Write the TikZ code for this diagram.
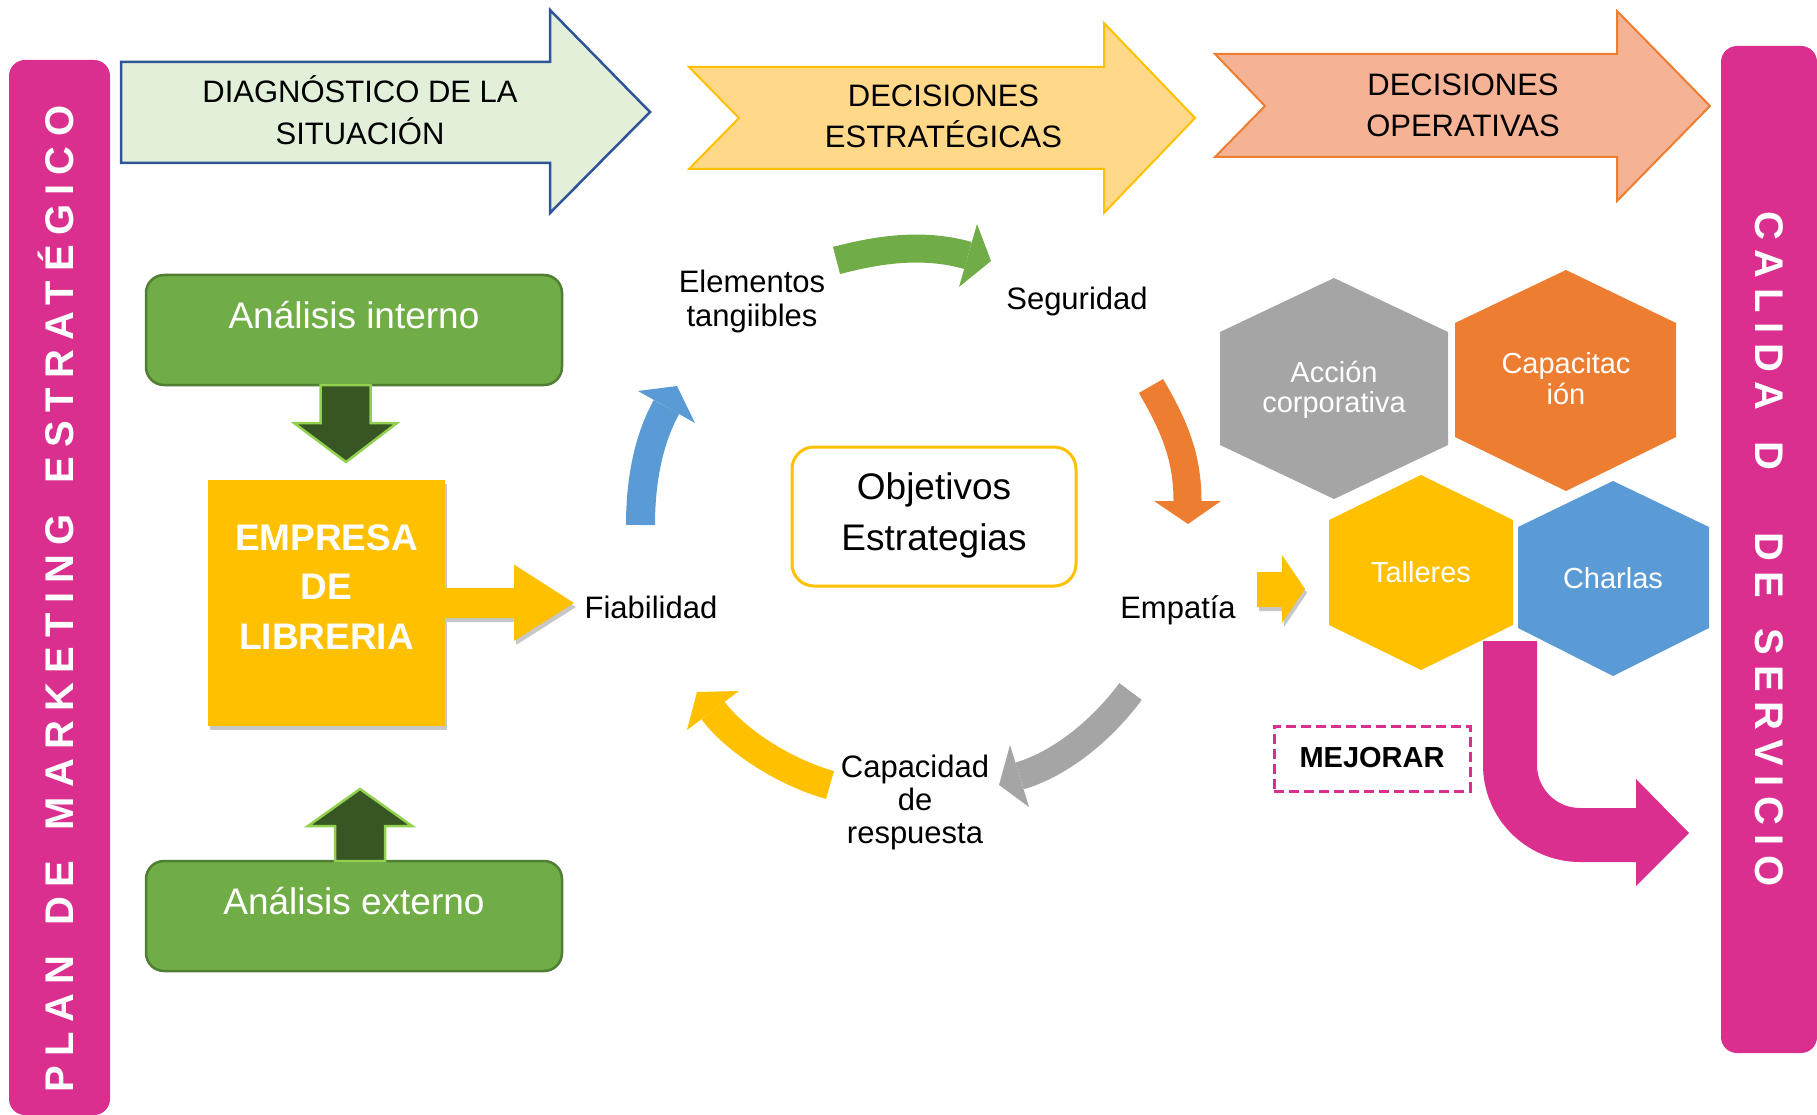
\documentclass[tikz,border=0pt]{standalone}
\usepackage{fontspec}
\setmainfont{Liberation Sans}
\newfontfamily\barfontL{Liberation Sans}[LetterSpace=23,WordSpace=1.5]
\newfontfamily\barfontR{Liberation Sans}[LetterSpace=24,WordSpace=1.5]
\usetikzlibrary{shadows}
\definecolor{pinkc}{HTML}{DA2F8E}
\definecolor{diagfill}{HTML}{E2F0D9}
\definecolor{diagline}{HTML}{2F5597}
\definecolor{decfill}{HTML}{FFD88A}
\definecolor{gold}{HTML}{FFC000}
\definecolor{opfill}{HTML}{F5B295}
\definecolor{orangec}{HTML}{ED7D31}
\definecolor{greenbox}{HTML}{70AD47}
\definecolor{greenline}{HTML}{507E32}
\definecolor{darkgreen}{HTML}{375623}
\definecolor{lightgreen}{HTML}{92D050}
\definecolor{grayc}{HTML}{A5A5A5}
\definecolor{bluec}{HTML}{5B9BD5}
\newcommand\myfs[1]{\fontsize{#1}{#1}\selectfont}
\begin{document}
\begin{tikzpicture}[x=1pt,y=-1pt,
  lbl/.style={inner sep=0pt, anchor=base},
  toptxt/.style={lbl, font=\myfs{31}},
  cyc/.style={lbl, font=\myfs{31}},
  hexlbl/.style={lbl, text=white, font=\myfs{29}},
  boxtxt/.style={lbl, text=white, font=\myfs{37}},
  greenbx/.style={draw=greenline, fill=greenbox, line width=2.5pt, rounded corners=18pt, minimum width=416pt, minimum height=110pt, inner sep=0pt},
  dgarrow/.style={fill=darkgreen, draw=lightgreen, line width=2.5pt},
  barlbl/.style={lbl, text=white},
  softshadow/.style={drop shadow={shadow xshift=2pt, shadow yshift=-4pt, opacity=0.22, fill=black}}
]
\useasboundingbox (0,0) rectangle (1817,1115);
\clip (0,0) rectangle (1817,1115);

% side bars
\fill[pinkc, rounded corners=16pt] (9,60) rectangle (110,1115);
\node[barlbl, rotate=90, font=\barfontL\bfseries\myfs{40}] (plan) at (73.6,599) {PLAN DE MARKETING ESTRATÉGICO};
\fill[pinkc, rounded corners=16pt] (1721,46) rectangle (1817,1053);
\node[barlbl, rotate=-90, font=\barfontR\bfseries\myfs{40}] (calidad) at (1755,549) {CALIDA D~~DE SERVICIO};

% top arrows
\draw[fill=diagfill, draw=diagline, line width=2.5pt] (121,62) -- (550,62) -- (550,10) -- (650,112) -- (550,213) -- (550,163) -- (121,163) -- cycle;
\node[toptxt] (diag1) at (360,103) {DIAGNÓSTICO DE LA};
\node[toptxt] (diag2) at (360,145) {SITUACIÓN};

\draw[fill=decfill, draw=gold, line width=2pt] (689,67) -- (1104,67) -- (1104,23) -- (1195,118) -- (1104,213) -- (1104,169) -- (689,169) -- (739,118) -- cycle;
\node[toptxt] (est1) at (943.5,107) {DECISIONES};
\node[toptxt] (est2) at (943.5,148) {ESTRATÉGICAS};

\draw[fill=opfill, draw=orangec, line width=2pt] (1215,54) -- (1617,54) -- (1617,11) -- (1710,106) -- (1617,201) -- (1617,157) -- (1215,157) -- (1265,106) -- cycle;
\node[toptxt] (op1) at (1463,96) {DECISIONES};
\node[toptxt] (op2) at (1463,137) {OPERATIVAS};

% left column
\node[greenbx] (anaint) at (354,330) {};
\node[boxtxt] (anaintT) at (354,328) {Análisis interno};
\node[fill=gold, minimum width=237pt, minimum height=246pt, inner sep=0pt, softshadow] (empresa) at (326.5,603) {};
\node[boxtxt, font=\myfs{37}\bfseries] (emp1) at (326.5,550.5) {EMPRESA};
\node[boxtxt, font=\myfs{37}\bfseries] (emp2) at (326.5,599) {DE};
\node[boxtxt, font=\myfs{37}\bfseries] (emp3) at (326.5,649) {LIBRERIA};
\node[greenbx] (anaext) at (354,916) {};
\node[boxtxt] (anaextT) at (354,914) {Análisis externo};

\draw[dgarrow] (320.5,385) -- (370.5,385) -- (370.5,423) -- (397,423) -- (346,462) -- (294,423) -- (320.5,423) -- cycle;
\draw[dgarrow] (335,861) -- (335,826) -- (308,826) -- (360,789) -- (412,826) -- (385,826) -- (385,861) -- cycle;

\fill[gold, softshadow] (445,588) -- (514,588) -- (514,564.5) -- (574,603) -- (514,641) -- (514,618) -- (445,618) -- cycle;

% center
\node[draw=gold, fill=white, line width=3pt, rounded corners=22pt, minimum width=284pt, minimum height=139pt, inner sep=0pt] (obj) at (934,516.5) {};
\node[lbl, font=\myfs{37}] (obj1) at (934,499) {Objetivos};
\node[lbl, font=\myfs{37}] (obj2) at (934,550) {Estrategias};

\node[cyc] (elem1) at (752,292) {Elementos};
\node[cyc] (elem2) at (752,326) {tangiibles};
\node[cyc] (seg) at (1077,309) {Seguridad};
\node[cyc] (fia) at (651,618) {Fiabilidad};
\node[cyc] (empat) at (1178,618) {Empatía};
\node[cyc] (cap1) at (915,777) {Capacidad};
\node[cyc] (cap2) at (915,810) {de};
\node[cyc] (cap3) at (915,843) {respuesta};

% cycle arrows
\coordinate (gT) at (836.5,260.5); \coordinate (gH) at (968,255.5);
\draw[greenbox, line width=28pt] (gT) .. controls (880,249) and (924,243) .. (gH);
\fill[greenbox] (977,224) -- (991,261) -- (959,287) -- cycle;

\coordinate (oT) at (1151,386); \coordinate (oH) at (1187.5,501);
\draw[orangec, line width=28pt] (oT) .. controls (1173.5,424.7) and (1187.5,456) .. (oH);
\fill[orangec] (1154,501) -- (1221,501) -- (1188,524) -- cycle;

\coordinate (grT) at (1130.5,691.5); \coordinate (grH) at (1019.5,776);
\draw[grayc, line width=28pt] (grT) .. controls (1104,727.5) and (1063,763) .. (grH);
\fill[grayc] (1010,745) -- (999,785) -- (1029,807) -- cycle;

\coordinate (yT) at (830,785); \coordinate (yH) at (713,710.5);
\draw[gold, line width=29pt] (yT) .. controls (787,773) and (737,742.5) .. (yH);
\fill[gold] (739,691) -- (697,692) -- (687,730) -- cycle;

\coordinate (bT) at (640.5,525); \coordinate (bH) at (666.5,407);
\draw[bluec, line width=29pt] (bT) .. controls (640.5,485) and (647,442) .. (bH);
\fill[bluec] (638,391) -- (677,386) -- (695,423) -- cycle;

% hexagons
\fill[grayc] (1334,278) -- (1448,332) -- (1448,445) -- (1334,499) -- (1220,445) -- (1220,332) -- cycle;
\node[hexlbl] (acc1) at (1334,382) {Acción};
\node[hexlbl] (acc2) at (1334,412) {corporativa};
\fill[orangec] (1566,270) -- (1676,323) -- (1676,437) -- (1566,491) -- (1455,437) -- (1455,323) -- cycle;
\node[hexlbl] (capa1) at (1566,373) {Capacitac};
\node[hexlbl] (capa2) at (1566,404) {ión};
\fill[gold] (1421,475) -- (1513,520) -- (1513,625) -- (1421,670) -- (1329,625) -- (1329,520) -- cycle;
\node[hexlbl] (tall) at (1421,582) {Talleres};
\fill[bluec] (1613,481) -- (1709,527) -- (1709,628) -- (1613,676) -- (1518,628) -- (1518,527) -- cycle;
\node[hexlbl] (charl) at (1613,588) {Charlas};

\fill[gold, softshadow] (1257,572) -- (1282,572) -- (1282,555) -- (1305,589) -- (1282,623) -- (1282,607) -- (1257,607) -- cycle;

% pink bent arrow
\fill[pinkc] (1483,641) -- (1537,641) -- (1537,765) .. controls (1537,788.7) and (1556.3,808) .. (1580,808) -- (1636,808) -- (1636,779) -- (1689,833) -- (1636,886) -- (1636,862) -- (1580,862) .. controls (1526.5,862) and (1483,818.5) .. (1483,765) -- cycle;

\node[draw=pinkc, dash pattern=on 10pt off 5pt, line width=3pt, minimum width=196pt, minimum height=65pt, inner sep=0pt] (mej) at (1372,758.5) {};
\node[lbl, font=\myfs{29}\bfseries] (mejT) at (1372,767) {MEJORAR};
\end{tikzpicture}
\end{document}
